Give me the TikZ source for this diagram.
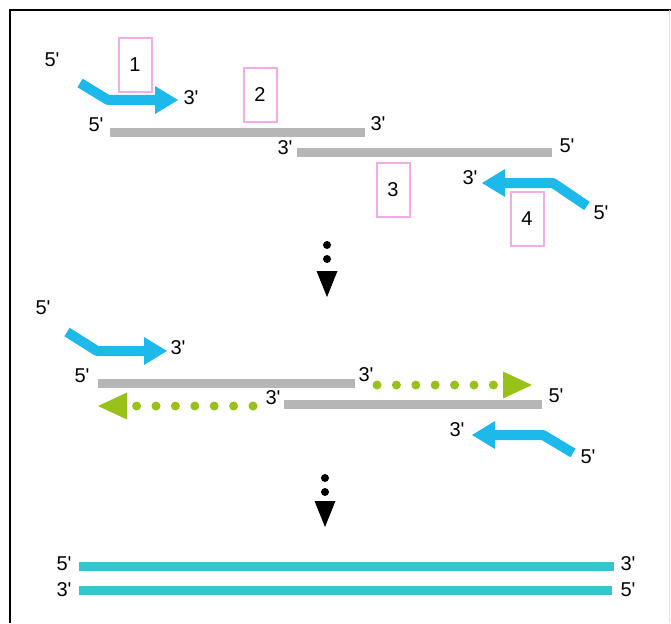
\documentclass[tikz,border=0pt]{standalone}
\usepackage{fontspec}
\setmainfont{Liberation Sans}
\usetikzlibrary{arrows.meta}
\definecolor{primercol}{RGB}{30,185,235}
\definecolor{strandcol}{RGB}{182,182,182}
\definecolor{productcol}{RGB}{52,198,206}
\definecolor{newcol}{RGB}{152,194,26}
\definecolor{boxcol}{RGB}{242,172,232}
\newcommand{\tk}[1]{#1\textquotesingle}
\tikzset{
  lbl/.style={font=\fontsize{20}{24}\selectfont, inner sep=0pt},
  numbox/.style={draw=boxcol, line width=2pt, minimum width=33pt, minimum height=54pt,
    inner sep=0pt, font=\fontsize{20}{24}\selectfont},
  strandline/.style={strandcol, line width=9pt},
  productline/.style={productcol, line width=9pt},
  primerline/.style={primercol, line width=10pt, line join=bevel,
    -{Triangle[length=23pt, width=28pt, line width=0pt]}},
  newline/.style={newcol, line width=9pt, line cap=round, dash pattern=on 0pt off 19.4pt,
    -{Triangle[length=29pt, width=27pt, line width=0pt]}},
  flowarrow/.style={black, line width=8pt, line cap=round, dash pattern=on 0pt off 14pt,
    -{Triangle[length=26pt, width=21pt, line width=0pt]}}
}
\begin{document}
\begin{tikzpicture}[x=1pt, y=-1pt]
    \useasboundingbox (0,0) rectangle (671,623);
    \draw[line width=2pt] (10,623) -- (10,10) -- (671,10);
    \draw[black!12, line width=1pt] (669,10) -- (669,623);

    % first step
    \node[numbox] (box1) at (135,65) {1};
    \node[numbox] (box2) at (260,95) {2};
    \node[numbox] (box3) at (393,190) {3};
    \node[numbox] (box4) at (527,219) {4};

    \coordinate (A1) at (110,132);
    \coordinate (A2) at (365,132);
    \coordinate (B1) at (297,152);
    \coordinate (B2) at (552,152);
    \draw[strandline] (A1) -- (A2);
    \draw[strandline] (B1) -- (B2);
    \node[lbl] (a5) at (96,125) {\tk{5}};
    \node[lbl] (a3) at (378,124) {\tk{3}};
    \node[lbl] (b3) at (285,148) {\tk{3}};
    \node[lbl] (b5) at (567,146) {\tk{5}};

    \coordinate (P1) at (80,83);
    \coordinate (P1b) at (108,100);
    \coordinate (P1t) at (178,100);
    \draw[primerline] (P1) -- (P1b) -- (P1t);
    \node[lbl] (p15) at (52,60) {\tk{5}};
    \node[lbl] (p13) at (191,98) {\tk{3}};

    \coordinate (Q1) at (587,206);
    \coordinate (Q1b) at (553,183);
    \coordinate (Q1t) at (482,183);
    \draw[primerline] (Q1) -- (Q1b) -- (Q1t);
    \node[lbl] (q13) at (470,178) {\tk{3}};
    \node[lbl] (q15) at (601,213) {\tk{5}};

    \coordinate (F1) at (327,245);
    \coordinate (F1t) at (327,297);
    \draw[flowarrow] (F1) -- (F1t);

    % second step
    \coordinate (C1) at (98,383);
    \coordinate (C2) at (355,383);
    \coordinate (D1) at (284,404);
    \coordinate (D2) at (542,404);
    \draw[strandline] (C1) -- (C2);
    \draw[strandline] (D1) -- (D2);
    \node[lbl] (c5) at (82,376) {\tk{5}};
    \node[lbl] (c3) at (366,375) {\tk{3}};
    \node[lbl] (d3) at (273,398) {\tk{3}};
    \node[lbl] (d5) at (556,396) {\tk{5}};

    \coordinate (G1) at (377,385);
    \coordinate (G1t) at (532,385);
    \draw[newline] (G1) -- (G1t);
    \coordinate (G2) at (253,406);
    \coordinate (G2t) at (98,406);
    \draw[newline] (G2) -- (G2t);

    \coordinate (P2) at (67,332);
    \coordinate (P2b) at (97,351);
    \coordinate (P2t) at (167,351);
    \draw[primerline] (P2) -- (P2b) -- (P2t);
    \node[lbl] (p25) at (43,308) {\tk{5}};
    \node[lbl] (p23) at (178,348) {\tk{3}};

    \coordinate (Q2) at (573,453);
    \coordinate (Q2b) at (543,435);
    \coordinate (Q2t) at (472,435);
    \draw[primerline] (Q2) -- (Q2b) -- (Q2t);
    \node[lbl] (q23) at (457,430) {\tk{3}};
    \node[lbl] (q25) at (588,457) {\tk{5}};

    \coordinate (F2) at (325,478);
    \coordinate (F2t) at (325,527);
    \draw[flowarrow] (F2) -- (F2t);

    % product
    \coordinate (E1) at (79,566);
    \coordinate (E2) at (614,566);
    \coordinate (H1) at (79,590);
    \coordinate (H2) at (612,590);
    \draw[productline] (E1) -- (E2);
    \draw[productline] (H1) -- (H2);
    \node[lbl] (e5) at (64,564) {\tk{5}};
    \node[lbl] (e3) at (628,564) {\tk{3}};
    \node[lbl] (h3) at (64,590) {\tk{3}};
    \node[lbl] (h5) at (628,590) {\tk{5}};
\end{tikzpicture}
\end{document}
